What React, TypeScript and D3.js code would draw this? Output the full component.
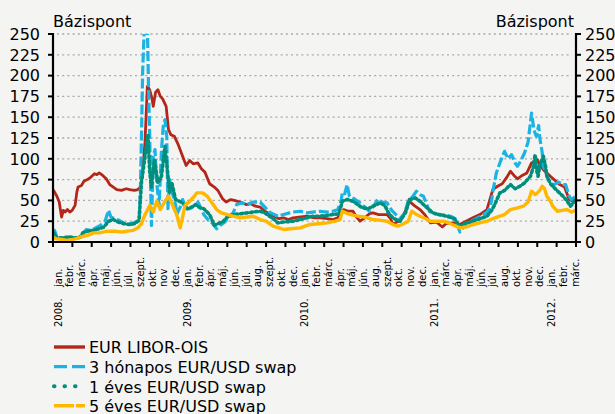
import React from "react";
import * as d3 from "d3";

// x values are in "label steps" (0 = first category label, 1 = next label ...)
const monthLabels = [
  "jan.", "febr.", "márc.", "ápr.", "máj.", "jún.", "júl.", "szept.", "okt.", "nov", "dec.",
  "jan.", "febr.", "ápr.", "máj.", "jún.", "júl.", "aug.", "szept.", "okt.", "dec.",
  "jan.", "febr.", "márc.", "ápr.", "máj.", "jún.", "aug.", "szept.", "okt.", "nov.", "dec.",
  "jan.", "márc.", "ápr.", "máj.", "jún.", "júl.", "aug.", "okt.", "nov.", "dec.",
  "jan.", "febr.", "márc.",
];
const yearLabels = ["2008.", "2009.", "2010.", "2011.", "2012."];
const yearLabelIndex = [0, 11, 21, 32, 42];
const yTicks = [0, 25, 50, 75, 100, 125, 150, 175, 200, 225, 250];
const xDomain = [-0.43, 44.08];
const xTickCount = 27;

const liborOis: [number, number][] = [
  [-0.43, 63], [-0.3, 60], [-0.1, 55], [0.1, 48], [0.3, 30], [0.45, 38], [0.6, 36], [0.8, 39], [1.0, 36],
  [1.2, 38], [1.45, 44], [1.6, 60], [1.7, 66], [2.0, 68], [2.2, 73], [2.5, 75], [2.8, 78], [3.1, 82],
  [3.3, 81], [3.5, 83], [3.8, 80], [4.1, 76], [4.4, 69], [4.7, 66], [5.0, 63], [5.4, 62], [5.8, 64],
  [6.1, 63], [6.5, 62], [6.8, 63], [7.0, 66], [7.15, 78], [7.4, 120], [7.6, 187], [7.8, 183], [8.0, 172],
  [8.1, 163], [8.3, 180], [8.5, 183], [8.7, 175], [8.9, 172], [9.2, 163], [9.4, 135], [9.6, 129],
  [9.9, 127], [10.2, 118], [10.6, 103], [10.9, 92], [11.2, 98], [11.5, 94], [11.9, 95], [12.2, 88],
  [12.5, 84], [12.9, 70], [13.3, 66], [13.6, 62], [14.0, 52], [14.3, 48], [14.7, 51], [15.0, 50],
  [15.5, 48], [16.0, 45], [16.4, 46], [16.8, 43], [17.2, 42], [17.6, 37], [18.0, 34], [18.4, 31],
  [18.8, 28], [19.2, 29], [19.6, 27], [20.0, 29], [20.5, 30], [21.2, 31], [21.8, 29], [22.3, 29],
  [22.9, 28], [23.4, 27], [23.8, 29], [24.1, 36], [24.3, 39], [24.7, 37], [25.1, 37], [25.4, 30],
  [25.7, 25], [26.0, 28], [26.5, 34], [26.8, 35], [27.3, 33], [28.0, 33], [28.3, 28], [28.5, 21],
  [28.8, 24], [29.1, 25], [29.5, 35], [29.9, 49], [30.3, 44], [30.8, 39], [31.2, 33], [31.7, 23],
  [32.2, 24], [32.7, 18], [33.0, 22], [33.6, 23], [34.2, 21], [34.6, 24], [35.3, 29], [35.9, 33],
  [36.5, 39], [37.0, 63], [37.4, 67], [37.8, 70], [38.2, 78], [38.5, 85], [38.8, 80], [39.1, 76],
  [39.5, 80], [39.9, 83], [40.3, 95], [40.6, 97], [40.8, 99], [41.0, 92], [41.3, 87], [41.6, 83],
  [41.9, 79], [42.3, 74], [42.7, 69], [43.1, 66], [43.5, 51], [43.8, 49], [44.05, 48],
];

const swap3m: [number, number][] = [
  [-0.43, 10], [-0.3, 14], [-0.1, 6], [0.3, 4], [0.8, 6], [1.3, 5], [1.8, 5], [2.1, 10], [2.4, 15],
  [2.8, 14], [3.2, 17], [3.6, 20], [4.0, 25], [4.3, 38], [4.5, 30], [4.8, 28], [5.2, 26], [5.7, 22],
  [6.2, 22], [6.6, 24], [6.9, 26], [7.0, 60], [7.1, 127], [7.2, 205], [7.35, 260], [7.6, 260],
  [7.7, 187], [7.8, 127], [7.95, 20], [8.1, 103], [8.25, 111], [8.4, 70], [8.6, 44], [8.8, 110],
  [8.95, 139], [9.1, 147], [9.25, 127], [9.35, 40], [9.5, 75], [9.7, 60], [10.0, 45], [10.1, 33],
  [10.4, 42], [10.6, 51], [10.9, 40], [11.2, 40], [11.6, 44], [11.9, 48], [12.2, 40], [12.4, 33],
  [12.8, 26], [13.1, 23], [13.5, 16], [13.8, 20], [14.2, 24], [14.4, 28], [14.9, 35], [15.2, 45],
  [15.7, 47], [16.1, 45], [16.6, 48], [17.2, 48], [17.6, 42], [18.0, 36], [18.4, 33], [18.7, 31],
  [19.2, 33], [19.7, 35], [20.0, 36], [20.6, 37], [21.2, 35], [21.7, 36], [22.3, 37], [22.9, 36],
  [23.4, 37], [23.8, 39], [24.1, 50], [24.2, 60], [24.4, 58], [24.6, 69], [24.8, 55], [25.2, 52],
  [25.7, 47], [26.1, 42], [26.5, 37], [26.9, 44], [27.2, 51], [27.6, 48], [28.0, 47], [28.4, 38],
  [29.1, 28], [29.5, 35], [29.8, 49], [30.2, 55], [30.5, 61], [30.8, 57], [31.1, 55], [31.6, 37],
  [32.0, 34], [32.5, 33], [33.0, 32], [33.4, 31], [33.8, 28], [34.2, 12], [34.5, 18], [34.8, 23],
  [35.3, 26], [35.7, 29], [36.1, 32], [36.5, 36], [36.8, 42], [37.0, 60], [37.3, 83], [37.6, 95],
  [38.0, 109], [38.3, 100], [38.6, 105], [38.9, 95], [39.1, 91], [39.4, 98], [39.7, 107], [40.0, 120],
  [40.3, 155], [40.5, 135], [40.7, 127], [40.9, 140], [41.0, 125], [41.2, 108], [41.3, 91], [41.6, 80],
  [41.9, 71], [42.2, 69], [42.6, 72], [43.0, 69], [43.2, 69], [43.5, 55], [43.7, 51], [44.05, 55],
];

const swap1y: [number, number][] = [
  [-0.43, 12], [-0.3, 10], [-0.1, 5], [0.4, 5], [1.0, 6], [1.5, 5], [1.9, 6], [2.1, 11], [2.5, 13],
  [3.0, 14], [3.5, 16], [3.9, 18], [4.3, 25], [4.7, 27], [5.1, 24], [5.6, 22], [6.1, 21], [6.5, 22],
  [6.9, 26], [7.0, 50], [7.1, 72], [7.4, 103], [7.65, 129], [7.8, 85], [7.95, 66], [8.2, 99], [8.5, 71],
  [8.8, 79], [9.1, 115], [9.3, 87], [9.5, 60], [9.7, 70], [10.0, 51], [10.3, 49], [10.6, 47], [11.0, 40],
  [11.4, 42], [11.7, 45], [12.1, 41], [12.4, 40], [12.9, 33], [13.3, 20], [13.6, 22], [14.0, 24],
  [14.4, 30], [14.9, 33], [15.5, 34], [16.1, 35], [16.6, 36], [17.2, 37], [17.6, 35], [18.0, 31],
  [18.4, 27], [18.7, 23], [19.2, 24], [20.0, 25], [20.6, 27], [21.2, 29], [21.7, 31], [22.3, 31],
  [22.9, 32], [23.4, 33], [23.9, 34], [24.1, 44], [24.2, 49], [24.6, 51], [25.1, 49], [25.5, 45],
  [25.9, 41], [26.4, 40], [26.8, 43], [27.4, 47], [27.8, 44], [28.2, 33], [28.6, 28], [29.1, 25],
  [29.6, 36], [29.9, 51], [30.4, 53], [30.8, 49], [31.1, 45], [31.5, 40], [31.9, 35], [32.4, 33],
  [33.1, 31], [33.7, 28], [34.2, 19], [34.6, 22], [35.3, 25], [35.9, 28], [36.5, 31], [36.9, 38],
  [37.1, 43], [37.6, 59], [38.0, 62], [38.5, 69], [38.9, 64], [39.3, 67], [39.7, 71], [40.2, 79],
  [40.45, 90], [40.6, 105], [40.75, 85], [40.85, 79], [41.0, 92], [41.3, 103], [41.5, 90], [41.6, 79],
  [41.9, 70], [42.1, 67], [42.6, 60], [42.9, 56], [43.3, 50], [43.6, 43], [43.9, 48], [44.05, 53],
];

const swap5y: [number, number][] = [
  [-0.43, 6], [-0.2, 4], [0.3, 3], [0.8, 2], [1.3, 3], [1.9, 6], [2.5, 8], [3.0, 11], [3.5, 11],
  [4.2, 13], [4.8, 13], [5.4, 12], [5.9, 13], [6.4, 14], [6.8, 17], [7.1, 22], [7.4, 33], [7.6, 38],
  [7.8, 44], [8.1, 36], [8.4, 49], [8.7, 39], [9.1, 49], [9.4, 55], [9.7, 46], [9.9, 39], [10.1, 33],
  [10.3, 22], [10.4, 17], [10.6, 30], [10.8, 44], [11.2, 49], [11.6, 55], [11.8, 59], [12.3, 59],
  [12.7, 55], [12.9, 51], [13.5, 39], [13.9, 35], [14.4, 33], [14.9, 31], [15.5, 29], [16.1, 30],
  [16.6, 31], [17.2, 27], [17.7, 25], [18.3, 19], [18.8, 17], [19.2, 15], [19.8, 16], [20.6, 17],
  [21.4, 21], [22.2, 22], [22.9, 23], [23.6, 25], [24.0, 27], [24.2, 37], [24.5, 35], [24.9, 33],
  [25.5, 31], [26.1, 30], [26.8, 27], [27.5, 26], [28.0, 25], [28.5, 21], [28.9, 19], [29.4, 22],
  [29.8, 25], [30.1, 37], [30.4, 34], [30.8, 31], [31.3, 28], [31.7, 25], [32.3, 25], [32.8, 25],
  [33.4, 22], [34.2, 17], [34.7, 18], [35.3, 21], [35.9, 23], [36.5, 25], [37.0, 28], [37.6, 31],
  [38.0, 33], [38.5, 39], [39.1, 41], [39.6, 43], [40.0, 48], [40.3, 61], [40.6, 57], [40.8, 59],
  [41.0, 62], [41.2, 67], [41.4, 64], [41.6, 55], [41.9, 49], [42.1, 43], [42.5, 37], [42.9, 38],
  [43.3, 39], [43.7, 36], [44.05, 38],
];

const seriesNames = [
  "EUR LIBOR-OIS",
  "3 hónapos EUR/USD swap",
  "1 éves EUR/USD swap",
  "5 éves EUR/USD swap",
];

const W = 615;
const H = 414;
const FONT = "'DejaVu Sans', Verdana, sans-serif";

export default function App() {
  const x = d3.scaleLinear().domain(xDomain).range([53, 576]);
  const y = d3.scaleLinear().domain([0, 250]).range([242, 34]);
  const line = d3
    .line<[number, number]>()
    .x((d) => x(d[0]))
    .y((d) => y(d[1]));

  const styles = [
    { color: "#b3261a", width: 2.8, dash: undefined as string | undefined, cap: "butt", legendDash: undefined as string | undefined },
    { color: "#1bb3e3", width: 3.2, dash: "10 3", cap: "butt", legendDash: "13 5" },
    { color: "#008f7c", width: 3.6, dash: "2 3", cap: "round", legendDash: "0.5 10" },
    { color: "#ffb700", width: 3.4, dash: undefined, cap: "butt", legendDash: "20 2" },
  ];
  const data = [liborOis, swap3m, swap1y, swap5y];

  const span = xDomain[1] - xDomain[0];
  const xTicks = d3.range(0, xTickCount + 1).map((k) => xDomain[0] + (k * span) / xTickCount);
  const gridTicks = yTicks.filter((t) => t > 0);

  return (
    <svg
      width={W}
      height={H}
      style={{ position: "absolute", left: 0, top: 0, fontFamily: FONT }}
    >
      <rect x={0} y={0} width={W} height={H} fill="#f4f4f2" />
      <defs>
        <clipPath id="plotClip">
          <rect x={x(xDomain[0])} y={y(250)} width={x(xDomain[1]) - x(xDomain[0])} height={y(0) - y(250)} />
        </clipPath>
      </defs>

      {/* gridlines */}
      {gridTicks.map((t) => (
        <line
          key={"g" + t}
          x1={x(xDomain[0]) + 4}
          x2={x(xDomain[1]) - 4}
          y1={y(t)}
          y2={y(t)}
          stroke="#a9a9a9"
          strokeWidth={1.3}
          strokeDasharray="2 3.2"
        />
      ))}

      {/* series */}
      <g clipPath="url(#plotClip)">
        {data.map((d, i) => (
          <path
            key={"s" + i}
            d={line(d) || ""}
            fill="none"
            stroke={styles[i].color}
            strokeWidth={styles[i].width}
            strokeDasharray={styles[i].dash}
            strokeLinecap={styles[i].cap as any}
            strokeLinejoin="round"
          />
        ))}
      </g>

      {/* axes */}
      <line x1={x(xDomain[0])} x2={x(xDomain[0])} y1={y(250) - 1} y2={y(0) + 1} stroke="#000" strokeWidth={2.2} />
      <line x1={x(xDomain[1])} x2={x(xDomain[1])} y1={y(250) - 1} y2={y(0) + 1} stroke="#000" strokeWidth={2.2} />
      <line x1={x(xDomain[0])} x2={x(xDomain[1])} y1={y(0)} y2={y(0)} stroke="#000" strokeWidth={2.2} />

      {yTicks.map((t) => (
        <g key={"yt" + t}>
          <line x1={x(xDomain[0]) - 5} x2={x(xDomain[0])} y1={y(t)} y2={y(t)} stroke="#000" strokeWidth={2} />
          <line x1={x(xDomain[1])} x2={x(xDomain[1]) + 5} y1={y(t)} y2={y(t)} stroke="#000" strokeWidth={2} />
          <text x={40} y={y(t)} dy="0.36em" textAnchor="end" fontSize={16} fill="#000">
            {t}
          </text>
          <text x={585} y={y(t)} dy="0.36em" textAnchor="start" fontSize={16} fill="#000">
            {t}
          </text>
        </g>
      ))}

      {xTicks.map((t, k) => (
        <line key={"xt" + k} x1={x(t)} x2={x(t)} y1={y(0)} y2={y(0) + 5} stroke="#000" strokeWidth={2} />
      ))}

      {monthLabels.map((m, i) => (
        <text
          key={"m" + i}
          transform={`translate(${x(i)},287) rotate(-90)`}
          dy="0.35em"
          textAnchor="start"
          fontSize={10}
          fill="#000"
        >
          {m}
        </text>
      ))}
      {yearLabels.map((yl, i) => (
        <text
          key={"yl" + i}
          transform={`translate(${x(yearLabelIndex[i])},327) rotate(-90)`}
          dy="0.35em"
          textAnchor="start"
          fontSize={10}
          fill="#000"
        >
          {yl}
        </text>
      ))}

      <text x={53} y={27} fontSize={16} fill="#000">Bázispont</text>
      <text x={574} y={27} fontSize={16} textAnchor="end" fill="#000">Bázispont</text>

      {/* legend */}
      {seriesNames.map((n, i) => {
        const ly = 347 + i * 19.6;
        return (
          <g key={"lg" + i}>
            <line
              x1={54}
              x2={85}
              y1={ly}
              y2={ly}
              stroke={styles[i].color}
              strokeWidth={i === 2 ? 4 : 3.4}
              strokeDasharray={styles[i].legendDash}
              strokeLinecap={i === 2 ? "round" : "butt"}
            />
            <text x={89} y={ly} dy="0.4em" fontSize={16} fill="#000">
              {n}
            </text>
          </g>
        );
      })}
    </svg>
  );
}
